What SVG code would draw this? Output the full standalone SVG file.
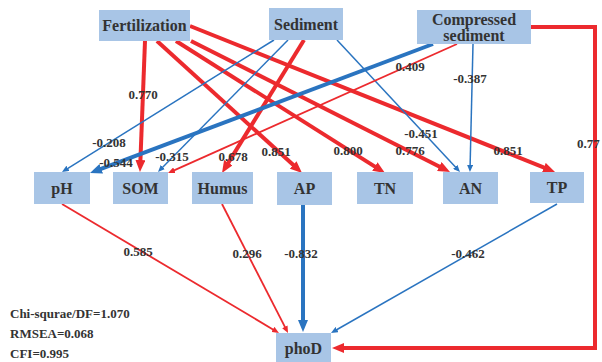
<svg xmlns="http://www.w3.org/2000/svg" width="602" height="362" viewBox="0 0 602 362">
<style>
.box{fill:#a8c5e6;}
.nt{font-family:"Liberation Serif",serif;font-weight:bold;font-size:16px;fill:#333;text-anchor:middle;}
.lb{font-family:"Liberation Serif",serif;font-weight:bold;font-size:13px;fill:#333;text-anchor:middle;}
.st{font-family:"Liberation Serif",serif;font-weight:bold;font-size:13px;fill:#333;}
.rk{stroke:#ec2a2e;stroke-width:4;fill:none;marker-end:url(#ar);}
.rn{stroke:#ec2a2e;stroke-width:1.8;fill:none;marker-end:url(#arn);}
.bk{stroke:#2a74c0;stroke-width:4;fill:none;marker-end:url(#ab);}
.bn{stroke:#2a74c0;stroke-width:1.5;fill:none;marker-end:url(#abn);}
</style>
<defs>
<marker id="ar" markerUnits="userSpaceOnUse" viewBox="0 0 12 10" markerWidth="12" markerHeight="10" refX="1" refY="5" orient="auto"><path d="M0,0 L12,5 L0,10 z" fill="#ec2a2e"/></marker>
<marker id="arn" markerUnits="userSpaceOnUse" viewBox="0 0 7 6" markerWidth="7" markerHeight="6" refX="1" refY="3" orient="auto"><path d="M0,0 L7,3 L0,6 z" fill="#ec2a2e"/></marker>
<marker id="ab" markerUnits="userSpaceOnUse" viewBox="0 0 12 10" markerWidth="12" markerHeight="10" refX="1" refY="5" orient="auto"><path d="M0,0 L12,5 L0,10 z" fill="#2a74c0"/></marker>
<marker id="abn" markerUnits="userSpaceOnUse" viewBox="0 0 7 6" markerWidth="7" markerHeight="6" refX="1" refY="3" orient="auto"><path d="M0,0 L7,3 L0,6 z" fill="#2a74c0"/></marker>
</defs>
<rect width="602" height="362" fill="#fff"/>
<g id="connectors">
<line class="rk" x1="145" y1="41" x2="140.4" y2="161"/>
<line class="rk" x1="157" y1="41" x2="293.9" y2="165.6"/>
<line class="rk" x1="176" y1="41" x2="375.7" y2="167.1"/>
<line class="rk" x1="191" y1="41" x2="440.2" y2="167"/>
<line class="rk" x1="190" y1="26" x2="544.8" y2="167.9"/>
<line class="bn" x1="274" y1="40" x2="67.1" y2="168.8"/>
<line class="bn" x1="288" y1="40" x2="162.2" y2="167.7"/>
<line class="rk" x1="304" y1="40" x2="227.8" y2="163.6"/>
<line class="bn" x1="337" y1="40" x2="455.9" y2="167.6"/>
<line class="bk" x1="433" y1="44" x2="100.3" y2="169.1"/>
<line class="rn" x1="457" y1="44" x2="173.5" y2="170.6"/>
<line class="bn" x1="473" y1="44" x2="470.1" y2="166"/>
<polyline class="rk" points="531,27 595,27 595,348 343,348"/>
<line class="rn" x1="62" y1="204" x2="273.8" y2="329.9"/>
<line class="rn" x1="222" y1="204" x2="285.3" y2="327.7"/>
<line class="bk" x1="303" y1="205" x2="303" y2="321"/>
<line class="bn" x1="557" y1="204" x2="336.2" y2="330"/>
</g>
<g id="fertilization"><rect class="box" x="99" y="10" width="91" height="31"/><text class="nt" x="144.5" y="31">Fertilization</text></g>
<g id="sediment"><rect class="box" x="269" y="8" width="74" height="32"/><text class="nt" x="306" y="30">Sediment</text></g>
<g id="compressed-sediment"><rect class="box" x="417" y="10" width="114" height="34"/><text class="nt" x="474" y="25">Compressed</text><text class="nt" x="474" y="41">sediment</text></g>
<g id="ph"><rect class="box" x="34" y="172" width="56" height="32"/><text class="nt" x="62" y="194">pH</text></g>
<g id="som"><rect class="box" x="113" y="172" width="55" height="32"/><text class="nt" x="140.5" y="194">SOM</text></g>
<g id="humus"><rect class="box" x="192" y="172" width="61" height="32"/><text class="nt" x="222.5" y="194">Humus</text></g>
<g id="ap"><rect class="box" x="277" y="172" width="55" height="33"/><text class="nt" x="304.5" y="194">AP</text></g>
<g id="tn"><rect class="box" x="357" y="172" width="56" height="32"/><text class="nt" x="385" y="194">TN</text></g>
<g id="an"><rect class="box" x="443" y="172" width="55" height="32"/><text class="nt" x="470.5" y="194">AN</text></g>
<g id="tp"><rect class="box" x="530" y="172" width="54" height="31"/><text class="nt" x="557" y="193">TP</text></g>
<g id="phod"><rect class="box" x="276" y="333" width="55" height="30"/><text class="nt" x="303.5" y="354">phoD</text></g>
<g id="labels">
<text class="lb" x="143" y="98.5">0.770</text>
<text class="lb" x="109" y="146.5">-0.208</text>
<text class="lb" x="116" y="166.5">-0.544</text>
<text class="lb" x="172" y="160.5">-0.315</text>
<text class="lb" x="233" y="160.5">0.678</text>
<text class="lb" x="276" y="155.5">0.851</text>
<text class="lb" x="410" y="70.5">0.409</text>
<text class="lb" x="470" y="82.5">-0.387</text>
<text class="lb" x="421" y="137.5">-0.451</text>
<text class="lb" x="348" y="154.5">0.800</text>
<text class="lb" x="410" y="154.5">0.776</text>
<text class="lb" x="508" y="154.5">0.851</text>
<text class="lb" x="577" y="147.5" style="text-anchor:start">0.77</text>
<text class="lb" x="138" y="255.5">0.585</text>
<text class="lb" x="247" y="257.5">0.296</text>
<text class="lb" x="301" y="257.5">-0.832</text>
<text class="lb" x="468" y="257.5">-0.462</text>
</g>
<g id="stats">
<text class="st" x="10" y="317.5">Chi-squrae/DF=1.070</text>
<text class="st" x="10" y="337.5">RMSEA=0.068</text>
<text class="st" x="10" y="357.5">CFI=0.995</text>
</g>
</svg>
